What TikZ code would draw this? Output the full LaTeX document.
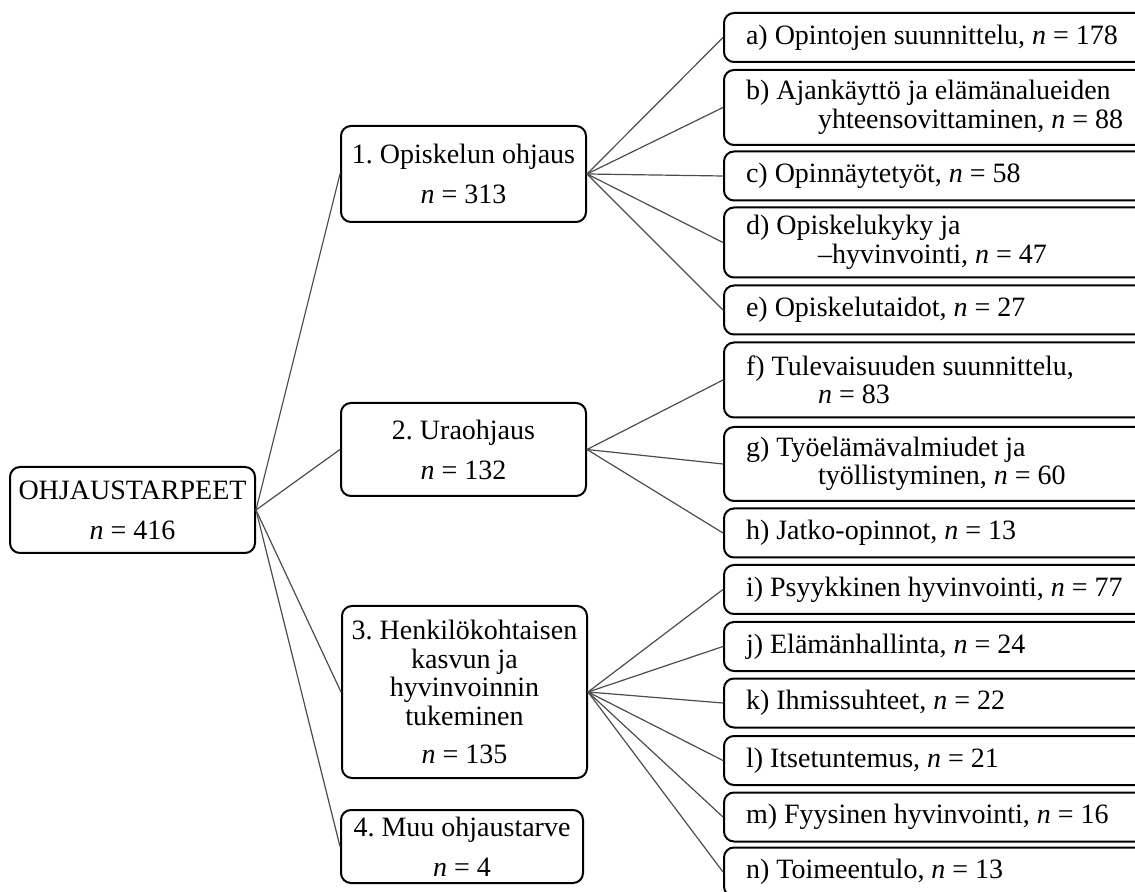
\documentclass[tikz,border=0pt]{standalone}
\usepackage{fontspec}
\setmainfont{Liberation Serif}
\frenchspacing
\newcommand{\ind}{\hspace*{36pt}}
\begin{document}
\begin{tikzpicture}[x=0.5pt, y=-0.5pt, font=\fontsize{14}{14.2}\selectfont, line join=round, line cap=round,
	box/.style={draw, line width=1pt, rounded corners=5pt, inner sep=0pt},
	mid/.style={box, align=flush center, minimum width=122.5pt},
	leaf/.style={box, anchor=west, align=flush left, text width=200pt, inner xsep=11pt, minimum height=24.5pt},
	link/.style={draw=black!70, line width=0.6pt}]
	\path[use as bounding box, clip] (0,0) rectangle (1135,892);
	% main categories
	\node[mid, minimum height=43pt] (root) at (132.5,510) {OHJAUSTARPEET\\[5.8pt]\textit{n} = 416};
	\node[mid, minimum height=48pt] (opis) at (463.5,174) {1. Opiskelun ohjaus\\[5.8pt]\textit{n} = 313};
	\node[mid, minimum height=46.5pt] (ura) at (463.5,449.5) {2. Uraohjaus\\[5.8pt]\textit{n} = 132};
	\node[mid, minimum height=86pt] (henk) at (464.5,692) {3. Henkilökohtaisen\\kasvun ja\\hyvinvoinnin\\tukeminen\\[4.8pt]\textit{n} = 135};
	\node[mid, minimum width=121pt, minimum height=36.5pt] (muu) at (462,846.5) {4. Muu ohjaustarve\\[5.8pt]\textit{n} = 4};
	% subcategories
	\node[leaf] (a) at (723,37.5) {a) Opintojen suunnittelu, \textit{n} = 178};
	\node[leaf, minimum height=37.5pt] (b) at (723,107.5) {b) Ajankäyttö ja elämänalueiden\\\ind yhteensovittaminen, \textit{n} = 88};
	\node[leaf] (c) at (723,176) {c) Opinnäytetyöt, \textit{n} = 58};
	\node[leaf, minimum height=35pt] (d) at (723,242.5) {d) Opiskelukyky ja\\\ind –hyvinvointi, \textit{n} = 47};
	\node[leaf] (e) at (723,310) {e) Opiskelutaidot, \textit{n} = 27};
	\node[leaf, minimum height=37.5pt] (f) at (723,380) {f) Tulevaisuuden suunnittelu,\\\ind \textit{n} = 83};
	\node[leaf, minimum height=37pt] (g) at (723,464) {g) Työelämävalmiudet ja\\\ind työllistyminen, \textit{n} = 60};
	\node[leaf] (h) at (723,533) {h) Jatko-opinnot, \textit{n} = 13};
	\node[leaf] (i) at (723,589.5) {i) Psyykkinen hyvinvointi, \textit{n} = 77};
	\node[leaf] (j) at (723,646.5) {j) Elämänhallinta, \textit{n} = 24};
	\node[leaf] (k) at (723,703) {k) Ihmissuhteet, \textit{n} = 22};
	\node[leaf] (l) at (723,760.5) {l) Itsetuntemus, \textit{n} = 21};
	\node[leaf] (m) at (723,817) {m) Fyysinen hyvinvointi, \textit{n} = 16};
	\node[leaf] (n) at (723,872) {n) Toimeentulo, \textit{n} = 13};
	% connectors
	\foreach \c in {opis,ura,henk,muu}
	\draw[link] (root.east)--(\c.west);
	\foreach \p/\c in {opis/a,opis/b,opis/c,opis/d,opis/e,ura/f,ura/g,ura/h,henk/i,henk/j,henk/k,henk/l,henk/m,henk/n}
	\draw[link] (\p.east)--(\c.west);
\end{tikzpicture}
\end{document}
